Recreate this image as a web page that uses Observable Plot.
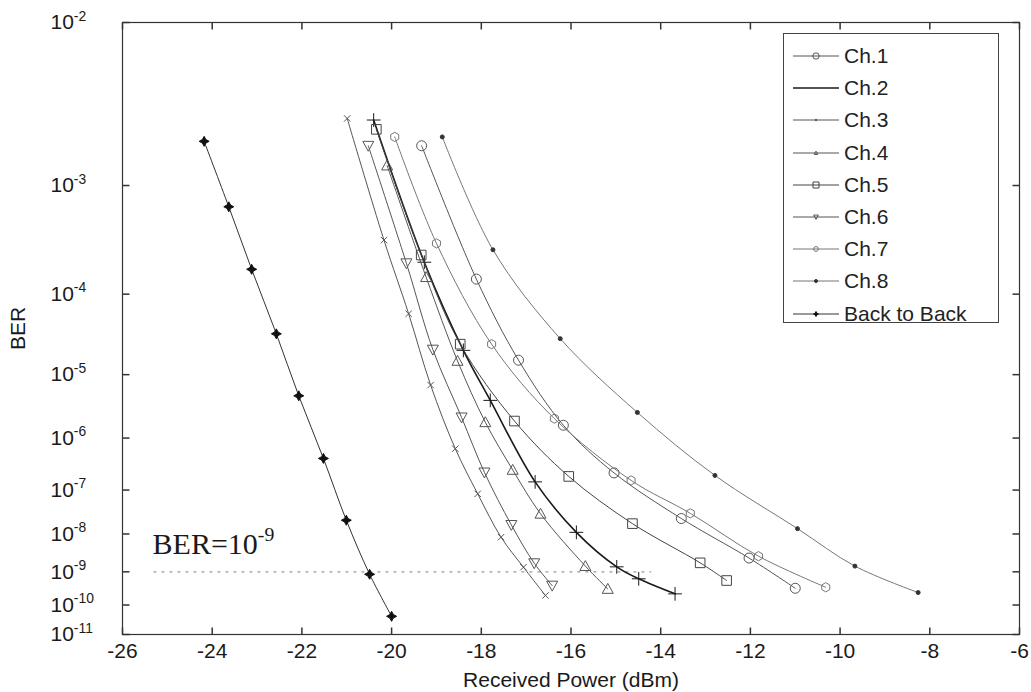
<!DOCTYPE html>
<html><head><meta charset="utf-8">
<script src="https://cdn.jsdelivr.net/npm/d3@7"></script>
<script src="https://cdn.jsdelivr.net/npm/@observablehq/plot@0.6"></script>
<style>
body{margin:0;background:#fff;font-family:"Liberation Sans",Arial,sans-serif;}
#wrap{position:relative;width:1031px;height:692px;overflow:hidden;}
#legend{position:absolute;left:783px;top:33px;width:216px;height:290px;border:1px solid #444;background:#fff;box-sizing:border-box;}
.row{position:absolute;left:0;height:30px;display:flex;align-items:center;font-size:21px;color:#222;}
.row svg{margin-left:8px;margin-right:4px;}
</style></head><body><div id="wrap"></div>
<script>
// ---- data ----
const seriesNames = ["Ch.1","Ch.2","Ch.3","Ch.4","Ch.5","Ch.6","Ch.7","Ch.8","Back to Back"];
const ch1Power = [-19.33,-18.11,-17.17,-16.17,-15.04,-13.54,-12.03,-11.00];
const ch1LogBer = [-2.71,-3.84,-4.80,-5.78,-6.65,-7.63,-8.62,-9.48];
const ch2Power = [-20.40,-19.27,-18.40,-17.80,-16.80,-15.88,-14.98,-14.49,-13.68];
const ch2LogBer = [-2.54,-3.67,-4.67,-5.38,-6.83,-7.96,-8.86,-9.20,-9.65];
const ch3Power = [-20.99,-20.17,-19.62,-19.13,-18.58,-18.08,-17.56,-17.06,-16.57];
const ch3LogBer = [-2.53,-3.46,-4.22,-5.15,-6.19,-7.08,-8.08,-8.87,-9.70];
const ch4Power = [-20.10,-19.23,-18.53,-17.91,-17.30,-16.68,-15.68,-15.18];
const ch4LogBer = [-2.85,-3.82,-4.81,-5.73,-6.59,-7.52,-8.84,-9.50];
const ch5Power = [-20.34,-19.34,-18.47,-17.26,-16.05,-14.63,-13.12,-12.53];
const ch5LogBer = [-2.60,-3.60,-4.59,-5.71,-6.72,-7.75,-8.75,-9.25];
const ch6Power = [-20.52,-19.67,-19.08,-18.44,-17.93,-17.33,-16.82,-16.42];
const ch6LogBer = [-2.71,-3.68,-4.66,-5.65,-6.64,-7.78,-8.76,-9.40];
const ch7Power = [-19.93,-19.00,-17.77,-16.37,-14.66,-13.34,-11.82,-10.32];
const ch7LogBer = [-2.65,-3.49,-4.59,-5.67,-6.80,-7.51,-8.57,-9.45];
const ch8Power = [-18.87,-17.74,-16.24,-14.52,-12.79,-10.95,-9.67,-8.26];
const ch8LogBer = [-2.65,-3.55,-4.52,-5.57,-6.70,-7.87,-8.84,-9.61];
const b2bPower = [-24.18,-23.63,-23.12,-22.57,-22.07,-21.52,-21.01,-20.49,-20.00];
const b2bLogBer = [-2.68,-3.17,-3.74,-4.46,-5.31,-6.37,-7.67,-9.07,-10.37];
const xTicks = [-26,-24,-22,-20,-18,-16,-14,-12,-10,-8,-6];
const yTicks = [-2,-3,-4,-5,-6,-7,-8,-9,-10,-11];
const refLogBer = -9;
const noteText = "BER=10^-9";
const xLabel = "Received Power (dBm)";
const yLabel = "BER";

// ---- symbols ----
const triDown = {draw(c, s){const r=Math.sqrt(s/Math.PI); c.moveTo(-r,-0.8*r); c.lineTo(r,-0.8*r); c.lineTo(0,r); c.closePath();}};
const triUp = {draw(c, s){const r=Math.sqrt(s/Math.PI); c.moveTo(-r,0.8*r); c.lineTo(r,0.8*r); c.lineTo(0,-r); c.closePath();}};
const sq = {draw(c, s){const r=Math.sqrt(s/Math.PI); c.rect(-r,-r,2*r,2*r);}};
const star4 = {draw(c, s){const r=Math.sqrt(s/Math.PI), q=r*0.35; c.moveTo(0,-r); c.lineTo(q,-q); c.lineTo(r,0); c.lineTo(q,q); c.lineTo(0,r); c.lineTo(-q,q); c.lineTo(-r,0); c.lineTo(-q,-q); c.closePath();}};
const tickUp = {draw(c){c.moveTo(0,0); c.lineTo(0,-7);}};
const tickDown = {draw(c){c.moveTo(0,0); c.lineTo(0,7);}};
const tickRight = {draw(c){c.moveTo(0,0); c.lineTo(7,0);}};
const tickLeft = {draw(c){c.moveTo(0,0); c.lineTo(-7,0);}};

const styles = [
  {symbol:"circle", r:5, fill:"none", color:"#555", width:1, lr:3.2},
  {symbol:"plus", r:4.5, fill:"none", color:"#1a1a1a", width:1.6, lr:0},
  {symbol:"times", r:3, fill:"none", color:"#555", width:1, lr:1.2},
  {symbol:triUp, r:5.5, fill:"none", color:"#555", width:1, lr:1.8},
  {symbol:sq, r:4.8, fill:"none", color:"#444", width:1, lr:3},
  {symbol:triDown, r:5.5, fill:"none", color:"#555", width:1, lr:2.4},
  {symbol:"hexagon", r:4, fill:"none", color:"#777", width:1, lr:2.4},
  {symbol:"circle", r:2, fill:"#333", color:"#777", width:1, lr:1.5},
  {symbol:star4, r:5, fill:"#111", color:"#333", width:1, lr:2.5}
];
const powers = [ch1Power,ch2Power,ch3Power,ch4Power,ch5Power,ch6Power,ch7Power,ch8Power,b2bPower];
const bers = [ch1LogBer,ch2LogBer,ch3LogBer,ch4LogBer,ch5LogBer,ch6LogBer,ch7LogBer,ch8LogBer,b2bLogBer];
const series = seriesNames.map((name,i)=>({name, ...styles[i], rows: powers[i].map((p,j)=>({name, power:p, logBer:bers[i][j]}))}));

const seriesMarks = series.flatMap(s => [
  Plot.line(s.rows, {x:"power", y:"logBer", stroke:s.color, strokeWidth:s.width, curve:"catmull-rom"}),
  Plot.dot(s.rows, {x:"power", y:"logBer", symbol:s.symbol, r:s.r, fill:s.fill, stroke:s.fill==="none"? s.color : s.fill, strokeWidth:1})
]);

const chart = Plot.plot({
  width:1031, height:692,
  marginLeft:122, marginRight:12, marginTop:22, marginBottom:58,
  style:{fontFamily:"'Liberation Sans', Arial, sans-serif", fontSize:"21px", color:"#1a1a1a", background:"white", overflow:"visible"},
  x:{domain:[-26,-6]},
  y:{type:"pow", exponent:-0.18, domain:[-11,-2]},
  marks:[
    Plot.ruleY([refLogBer], {x1:-25.3, x2:-14.2, stroke:"#999", strokeDasharray:"3,5", strokeWidth:1.2}),
    ...seriesMarks,
    Plot.dot(xTicks, {x:d=>d, y:()=>-11, symbol:tickUp, r:3, fill:"none", stroke:"#333"}),
    Plot.dot(xTicks, {x:d=>d, y:()=>-2, symbol:tickDown, r:3, fill:"none", stroke:"#333"}),
    Plot.dot(yTicks, {y:d=>d, x:()=>-26, symbol:tickRight, r:3, fill:"none", stroke:"#333"}),
    Plot.dot(yTicks, {y:d=>d, x:()=>-6, symbol:tickLeft, r:3, fill:"none", stroke:"#333"}),
    Plot.frame({stroke:"#333", strokeWidth:1.2}),
    Plot.axisX({ticks:xTicks, tickSize:0, tickPadding:9, tickFormat:d=>String(d), label:xLabel, labelAnchor:"center", labelOffset:52, labelArrow:"none"}),
    Plot.axisY({ticks:yTicks, tickSize:0, tickPadding:72, textAnchor:"start", tickFormat:d=>`10^${d}`, label:yLabel, labelAnchor:"center", labelOffset:112, labelArrow:"none"}),
    Plot.text([noteText], {x:-25.33, y:-8.5, text:d=>d, textAnchor:"start", lineAnchor:"bottom", fontFamily:"'Liberation Serif', 'Times New Roman', serif", fontSize:30, fill:"#1a1a1a"})
  ]
});

// superscripts for "a^b" texts
const ns = "http://www.w3.org/2000/svg";
for (const t of chart.querySelectorAll("text")) {
  const s = t.textContent;
  if (!s.includes("^") || t.children.length) continue;
  const [base, exp] = s.split("^");
  t.textContent = "";
  const a = document.createElementNS(ns, "tspan"); a.textContent = base;
  const b = document.createElementNS(ns, "tspan"); b.setAttribute("dy","-0.62em"); b.setAttribute("font-size","0.66em"); b.textContent = exp;
  t.append(a, b);
}
const wrap = document.getElementById("wrap");
wrap.appendChild(chart);

// legend inside the plot
const legend = document.createElement("div");
legend.id = "legend";
series.forEach((s, i) => {
  const row = document.createElement("div");
  row.className = "row";
  row.style.top = (7 + i*32.2) + "px";
  const size = Math.PI * s.lr * s.lr;
  const path = s.lr > 0 ? d3.symbol(typeof s.symbol === "string" ? ({circle:d3.symbolCircle, plus:d3.symbolPlus, times:d3.symbolTimes, hexagon:d3.symbolCircle})[s.symbol] : s.symbol, size)() : "";
  const mfill = s.fill === "none" ? "none" : s.fill;
  row.innerHTML = `<svg width="48" height="20"><line x1="1" x2="47" y1="10" y2="10" stroke="${s.color}" stroke-width="${Math.min(s.width,1.3)}"/>${path ? `<path d="${path}" transform="translate(24,10)" fill="${mfill}" stroke="${s.fill==="none"?s.color:s.fill}"/>` : ""}</svg><span>${s.name}</span>`;
  legend.appendChild(row);
});
wrap.appendChild(legend);
</script>
</body></html>
